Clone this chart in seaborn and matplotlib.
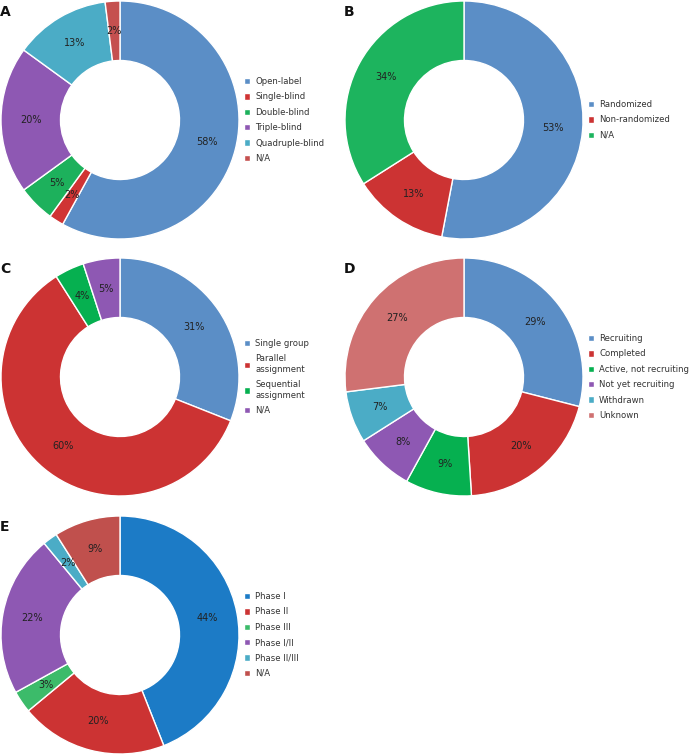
import matplotlib
matplotlib.use("Agg")
import matplotlib.pyplot as plt
import seaborn as sns

sns.set_theme(style="white")
plt.rcParams['font.family'] = ['DejaVu Sans']

# ---- data ----
a_labels = ["Open-label", "Single-blind", "Double-blind", "Triple-blind", "Quadruple-blind", "N/A"]
a_values = [58, 2, 5, 20, 13, 2]
a_colors = ["#5B8EC6", "#D03434", "#1DB15C", "#8E58B3", "#4BACC6", "#C5504F"]

b_labels = ["Randomized", "Non-randomized", "N/A"]
b_values = [53, 13, 34]
b_colors = ["#5B8EC6", "#CC3333", "#1DB45E"]

c_labels = ["Single group", "Parallel\nassignment", "Sequential\nassignment", "N/A"]
c_values = [31, 60, 4, 5]
c_colors = ["#5B8EC6", "#CC3333", "#06B050", "#8E58B3"]

d_labels = ["Recruiting", "Completed", "Active, not recruiting", "Not yet recruiting", "Withdrawn", "Unknown"]
d_values = [29, 20, 9, 8, 7, 27]
d_colors = ["#5B8EC6", "#CC3333", "#06B050", "#8E58B3", "#4BACC6", "#CF7171"]

e_labels = ["Phase I", "Phase II", "Phase III", "Phase I/II", "Phase II/III", "N/A"]
e_values = [44, 20, 3, 22, 2, 9]
e_colors = ["#1C7BC6", "#CC3333", "#3CBB6A", "#8E58B3", "#4BACC6", "#C0504D"]

panels = [
    ("A", a_labels, a_values, a_colors, 120, 120),
    ("B", b_labels, b_values, b_colors, 464, 120),
    ("C", c_labels, c_values, c_colors, 120, 377),
    ("D", d_labels, d_values, d_colors, 464, 377),
    ("E", e_labels, e_values, e_colors, 120, 635),
]

W, H = 689, 754
R = 119
fig = plt.figure(figsize=(W / 100, H / 100), dpi=100)

for letter, labels, values, colors, cx, cy in panels:
    ax = fig.add_axes([(cx - R) / W, (H - cy - R) / H, 2 * R / W, 2 * R / H])
    wedges, texts, autotexts = ax.pie(
        values, colors=colors, startangle=90, counterclock=False,
        autopct=lambda p: f"{p:.0f}%", pctdistance=0.75,
        wedgeprops=dict(width=0.5, edgecolor="white", linewidth=1),
        textprops=dict(fontsize=7, color="#222222"),
    )
    ax.set_xlim(-1, 1)
    ax.set_ylim(-1, 1)
    ax.set_aspect("equal")
    ax.axis("off")
    leg = ax.legend(wedges, labels, loc="center left", bbox_to_anchor=(1.02, 0.5),
                    frameon=False, fontsize=6.1, handlelength=0.75, handleheight=0.75,
                    handletextpad=0.6, labelspacing=0.75, borderpad=0.0,
                    borderaxespad=0.0)
    for t in leg.get_texts():
        t.set_color("#333333")
    fig.text((cx - R - 1) / W, 1 - (cy - R + 4) / H, letter, fontsize=10,
             fontweight="bold", ha="left", va="top", color="#111111")

fig.savefig("out.png", dpi=100, facecolor="white")
